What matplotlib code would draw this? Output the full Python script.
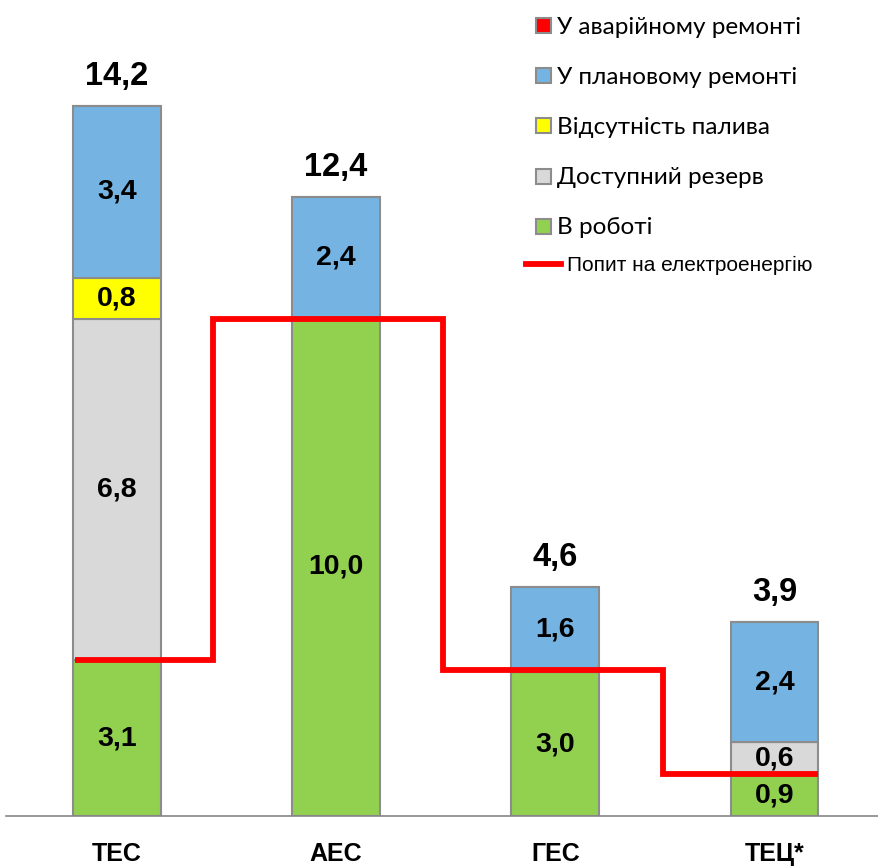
import numpy as np
import matplotlib
matplotlib.use("Agg")
import matplotlib.pyplot as plt
from matplotlib.patches import Rectangle
from matplotlib.lines import Line2D

# data
categories = ['ТЕС', 'АЕС', 'ГЕС', 'ТЕЦ*']
series_names = ['В роботі', 'Доступний резерв', 'Відсутність палива',
                'У плановому ремонті', 'У аварійному ремонті']
working = [3.12, 9.96, 2.88, 0.82]
reserve = [6.82, 0.0, 0.0, 0.66]
no_fuel = [0.82, 0.0, 0.0, 0.0]
planned = [3.44, 2.42, 1.70, 2.40]
emergency = [0.0, 0.0, 0.0, 0.0]

# printed labels
working_lbl = ['3,1', '10,0', '3,0', '0,9']
reserve_lbl = ['6,8', '', '', '0,6']
no_fuel_lbl = ['0,8', '', '', '']
planned_lbl = ['3,4', '2,4', '1,6', '2,4']
emergency_lbl = ['', '', '', '']
totals_lbl = ['14,2', '12,4', '4,6', '3,9']

demand_name = 'Попит на електроенергію'
demand = [3.12, 9.94, 2.92, 0.85]
demand_edges = [-0.19, 0.44, 1.49, 2.49, 3.2]

colors = ['#92D050', '#D9D9D9', '#FFFF00', '#75B4E2', '#FF0000']
edge = '#8C8C8C'

W, H = 879, 867
fig = plt.figure(figsize=(W / 100, H / 100), dpi=100)

# axes: baseline at y=816px, 50 px per unit
ax = fig.add_axes([6 / W, (H - 816) / H, (W - 6) / W, 816 / H])
ax.set_ylim(0, 816 / 50)
ax.set_xlim(-0.506, 3.477)

x = np.arange(len(categories))
stack = [working, reserve, no_fuel, planned, emergency]
labels = [working_lbl, reserve_lbl, no_fuel_lbl, planned_lbl, emergency_lbl]
bottom = np.zeros(len(categories))
for vals, lbls, col in zip(stack, labels, colors):
    vals = np.array(vals)
    bars = ax.bar(x, vals, 0.4, bottom=bottom, color=col, edgecolor=edge,
                  linewidth=1.5, zorder=2)
    for i, b in enumerate(bars):
        if vals[i] > 0 and lbls[i]:
            ax.text(x[i], bottom[i] + vals[i] / 2, lbls[i], ha='center',
                    va='center', fontsize=20.5, fontweight='bold',
                    family='Liberation Sans', zorder=4)
    bottom = bottom + vals

for i in range(len(categories)):
    ax.annotate(totals_lbl[i], (x[i], bottom[i]), xytext=(0, 15),
                textcoords='offset points', ha='center', va='baseline',
                fontsize=23.5, fontweight='bold', family='Liberation Sans')

ax.stairs(demand, demand_edges, baseline=None, color='#FF0000',
          linewidth=4.2, zorder=3)

for s in ['top', 'right', 'left']:
    ax.spines[s].set_visible(False)
ax.spines['bottom'].set_color('#868686')
ax.spines['bottom'].set_linewidth(1.2)
ax.set_yticks([])
ax.set_xticks(x)
ax.set_xticklabels(categories, fontsize=18, fontweight='bold',
                   family='Liberation Sans')
ax.tick_params(axis='x', length=0, pad=19)

# legend, drawn by hand (top-down order)
leg_names = series_names[::-1]
leg_colors = colors[::-1]
for k, (name, col) in enumerate(zip(leg_names, leg_colors)):
    cy = 25.5 + 50.2 * k
    fig.patches.append(Rectangle((536 / W, 1 - (cy + 7.5) / H), 15 / W, 15 / H,
                                 transform=fig.transFigure, facecolor=col,
                                 edgecolor=edge, linewidth=1.5))
    fig.text(557 / W, 1 - (cy + 8) / H, name, fontsize=17.5, va='baseline',
             ha='left', family='Lato')
fig.lines.append(Line2D([526 / W, 561 / W], [1 - 264 / H, 1 - 264 / H],
                        transform=fig.transFigure, color='#FF0000', linewidth=4.2))
fig.text(567 / W, 1 - 271 / H, demand_name, fontsize=15, va='baseline',
         ha='left', family='Liberation Sans')

fig.savefig('out.png', dpi=100)
